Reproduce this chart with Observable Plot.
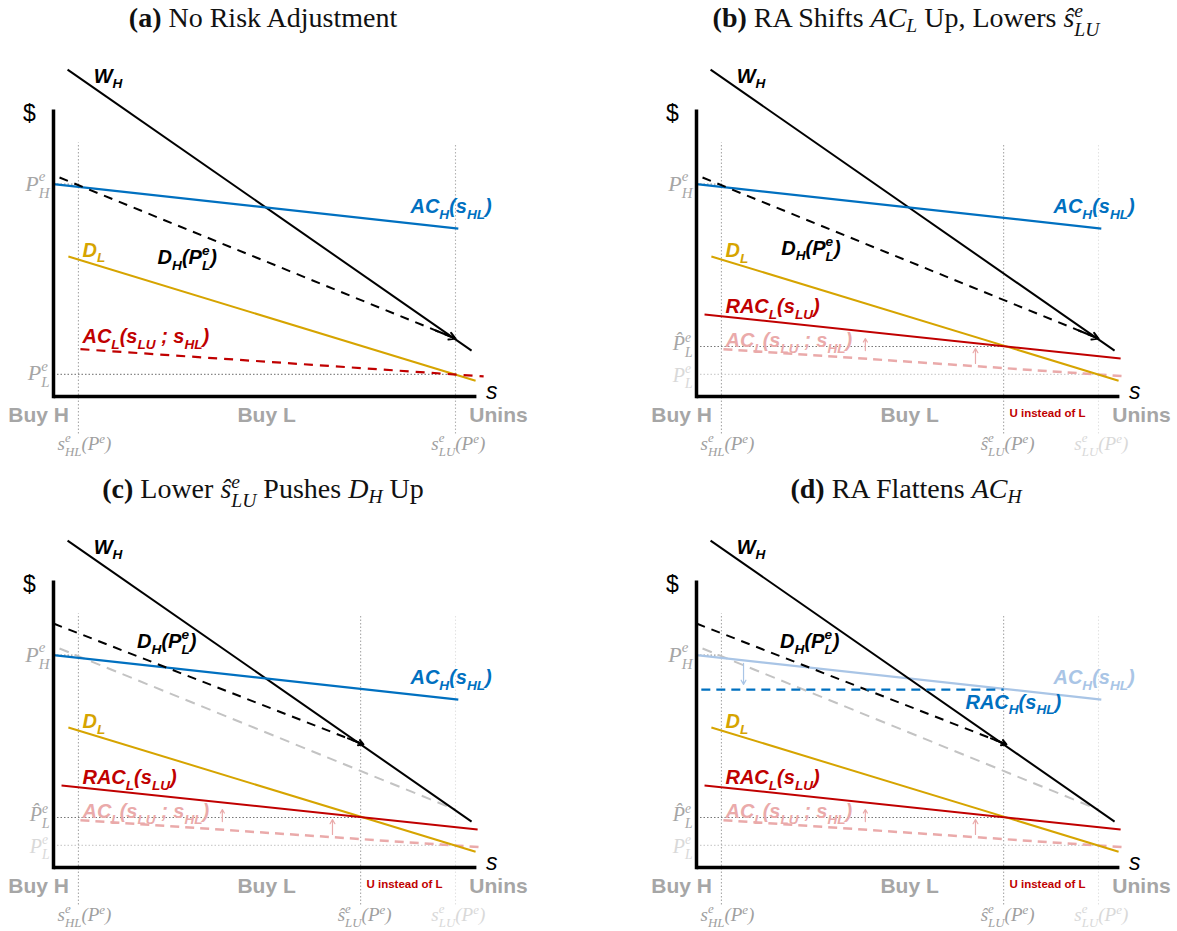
<!DOCTYPE html>
<html><head><meta charset="utf-8">
<script src="https://cdn.jsdelivr.net/npm/d3@7"></script>
<script src="https://cdn.jsdelivr.net/npm/@observablehq/plot@0.6"></script>
<style>
html,body{margin:0;padding:0;background:#fff;overflow:hidden;width:1177px;height:931px}
.panel{position:absolute;height:465px}
.title{position:absolute;left:0;top:0;width:526px;height:36px;line-height:36px;text-align:center;font-family:"Liberation Serif",serif;font-size:28px;color:#111;white-space:nowrap}
.title sub{font-size:0.7em;vertical-align:-0.25em;line-height:0}
.panel svg{position:absolute;left:0;top:36px}
.st{display:inline-block;vertical-align:-0.45em;line-height:0.95;font-size:0.7em;text-align:left}
.st span{display:block}
</style></head><body>
<div id="pa" class="panel" style="left:0;top:0;width:643px"><div class="title"><b>(a)</b> No Risk Adjustment</div></div>
<div id="pb" class="panel" style="left:643px;top:0;width:534px"><div class="title"><b>(b)</b> RA Shifts <i>AC</i><sub><i>L</i></sub> Up, Lowers <i>ŝ</i><span class="st"><span><i>e</i></span><span><i>LU</i></span></span></div></div>
<div id="pc" class="panel" style="left:0;top:471px;width:643px"><div class="title"><b>(c)</b> Lower <i>ŝ</i><span class="st"><span><i>e</i></span><span><i>LU</i></span></span> Pushes <i>D</i><sub><i>H</i></sub> Up</div></div>
<div id="pd" class="panel" style="left:643px;top:471px;width:534px"><div class="title"><b>(d)</b> RA Flattens <i>AC</i><sub><i>H</i></sub></div></div>
<script>
// ---------------- data (x: s, y: $) ----------------
const W_H    = [[3.5,113.9],[104,16]];
const AC_H   = [[0,74],[100.7,58.5]];
const D_H    = [[1.5,76.3],[100,20.2]];
const D_H_up = [[0,85],[77.1,42.9]];
const D_L    = [[3.7,48.8],[105,5.5]];
const AC_L   = [[6.7,16.5],[107,7.0]];
const RAC_L  = [[2,28.6],[105.5,13.2]];
const RAC_H  = [[1.2,62],[76.4,62]];
const P_H = 74, P_L = 7.7, P_L_hat = 17.4;
const s_HL = 6.2, s_LU = 100, s_LU_hat = 76.4;
const raArrowsL = [[42,16,20.2],[69.4,11.5,16.7]];   // x, from y, to y
const raArrowH  = [[11.7,71.1,63.8]];
const regionLabels = ["Buy H","Buy L","Unins"];
const regionX = [-3.7,53,110.7];

// ---------------- styles ----------------
const C = {blue:"#0070c0", gold:"#d6a400", red:"#c00000", redF:"#eaaaaa", blueF:"#a9c5e6",
           grayD:"#c3c3c3", grayT:"#a6a6a6", grayL:"#d9d9d9", black:"#000"};
const SANS = "Liberation Sans, Arial, sans-serif", SERIF = "Liberation Serif, serif";
const S = {
  bi:{fontFamily:SANS,fontWeight:"bold",fontStyle:"italic",fontSize:20,textAnchor:"start"},
  cat:{fontFamily:SANS,fontWeight:"bold",fontSize:21,textAnchor:"middle"},
  tiny:{fontFamily:SANS,fontWeight:"bold",fontSize:11.5,textAnchor:"middle"},
  pl:{fontFamily:SERIF,fontStyle:"italic",fontSize:22,textAnchor:"end"},
  pl2:{fontFamily:SERIF,fontStyle:"italic",fontSize:20,textAnchor:"end"},
  sl:{fontFamily:SERIF,fontStyle:"italic",fontSize:19,textAnchor:"middle"},
  dollar:{fontFamily:SANS,fontSize:23,textAnchor:"middle"},
  sx:{fontFamily:SANS,fontStyle:"italic",fontSize:23,textAnchor:"start"}
};
const seg = p => ({x1:p[0][0],y1:p[0][1],x2:p[1][0],y2:p[1][1]});
const along = (p,t) => [p[0][0]+t*(p[1][0]-p[0][0]), p[0][1]+t*(p[1][1]-p[0][1])];
const VTOP = 88.5, VBOT = -12.9, LBLY = -16.6, REGY = -6.6;

function common(texts){
  texts.push({x:-6,y:98.6,t:"$",c:C.black,s:"dollar"});
  texts.push({x:107.6,y:1.6,t:"s",c:C.black,s:"sx"});
  regionLabels.forEach((r,i)=>texts.push({x:regionX[i],y:REGY,t:r,c:C.grayT,s:"cat"}));
  texts.push({x:-1.0,y:P_H,t:"P^{e}_{H}",c:C.grayT,s:"pl"});
  texts.push({x:10,y:111.5,t:"W_{H}",c:C.black,s:"bi"});
  texts.push({x:s_HL+1.5,y:LBLY,t:"s^{e}_{HL}(P^{e})",c:"#a0a0a0",s:"sl"});
  return texts;
}

const cfgA = {
  dots:[{x1:s_HL,y1:VBOT,x2:s_HL,y2:VTOP,c:"#a8a8a8"},{x1:s_LU,y1:VBOT,x2:s_LU,y2:VTOP-0.7,c:"#b3b3b3"},
        {x1:0,y1:P_H,x2:s_HL,y2:P_H,c:"#999"},{x1:0,y1:P_L,x2:s_LU,y2:P_L,c:"#888"}],
  curves:[{p:W_H,c:C.black},{p:AC_H,c:C.blue,w:2.2},{p:D_H,c:C.black,dash:"9,7"},{p:D_L,c:C.gold},{p:AC_L,c:C.red,w:2.2,dash:"9,7"}],
  heads:[D_H], small:[],
  texts: common([
    {x:88.8,y:66.2,t:"AC_{H}(s_{HL})",c:C.blue,s:"bi"},
    {x:25.9,y:48.4,t:"D_{H}(P^{e}_{L})",c:C.black,s:"bi"},
    {x:7.2,y:50.9,t:"D_{L}",c:C.gold,s:"bi"},
    {x:7.2,y:20.9,t:"AC_{L}(s_{LU} ; s_{HL})",c:C.red,s:"bi"},
    {x:-1.0,y:P_L+0.4,t:"P^{e}_{L}",c:C.grayT,s:"pl"},
    {x:s_LU+0.7,y:LBLY,t:"s^{e}_{LU}(P^{e})",c:"#a0a0a0",s:"sl"}
  ])
};

function raBase(dhLabel, extra){
  const cfg = {
    dots:[{x1:s_HL,y1:VBOT,x2:s_HL,y2:VTOP,c:"#a8a8a8"},{x1:s_LU,y1:VBOT,x2:s_LU,y2:VTOP-0.7,c:"#e3e3e3"},
          {x1:s_LU_hat,y1:VBOT,x2:s_LU_hat,y2:VTOP-0.7,c:"#a8a8a8"},
          {x1:0,y1:P_H,x2:s_HL,y2:P_H,c:"#999"},{x1:0,y1:P_L,x2:s_LU,y2:P_L,c:"#cfcfcf"},
          {x1:0,y1:P_L_hat,x2:s_LU_hat,y2:P_L_hat,c:"#777"}],
    curves:[],
    heads:[], small:raArrowsL.map(a=>({x1:a[0],y1:a[1],x2:a[0],y2:a[2],c:C.redF})),
    texts: common([
      {x:88.8,y:66.2,t:"AC_{H}(s_{HL})",c:extra.acHFaded?C.blueF:C.blue,s:"bi"},
      {x:dhLabel[0],y:dhLabel[1],t:"D_{H}(P^{e}_{L})",c:C.black,s:"bi"},
      {x:7.2,y:50.7,t:"D_{L}",c:C.gold,s:"bi"},
      {x:7.2,y:31.2,t:"RAC_{L}(s_{LU})",c:C.red,s:"bi"},
      {x:7.2,y:19.4,t:"AC_{L}(s_{LU} ; s_{HL})",c:C.redF,s:"bi"},
      {x:-1.0,y:P_L_hat+0.9,t:"P\u0302^{e}_{L}",c:C.grayT,s:"pl2"},
      {x:-1.0,y:P_L-0.4,t:"P^{e}_{L}",c:C.grayL,s:"pl2"},
      {x:(s_LU_hat+s_LU)/2-0.9,y:-5.9,t:"U instead of L",c:C.red,s:"tiny"},
      {x:s_LU_hat+1,y:LBLY,t:"ŝ^{e}_{LU}(P^{e})",c:"#a0a0a0",s:"sl"},
      {x:s_LU+0.7,y:LBLY,t:"s^{e}_{LU}(P^{e})",c:C.grayL,s:"sl"}
    ])
  };
  return cfg;
}

const cfgB = raBase([21.1,51.6],{});
cfgB.curves = [{p:AC_L,c:C.redF,w:2.5,dash:"9,6"},{p:W_H,c:C.black},{p:AC_H,c:C.blue,w:2.2},{p:D_H,c:C.black,dash:"9,7"},{p:D_L,c:C.gold},{p:RAC_L,c:C.red}];
cfgB.heads = [D_H];

const cfgC = raBase([20.8,78.7],{});
cfgC.curves = [{p:AC_L,c:C.redF,w:2.5,dash:"9,6"},{p:D_H,c:C.grayD,dash:"10,7"},{p:W_H,c:C.black},{p:AC_H,c:C.blue,w:2.2},{p:D_H_up,c:C.black,dash:"9,7"},{p:D_L,c:C.gold},{p:RAC_L,c:C.red}];
cfgC.heads = [D_H_up];

const cfgD = raBase([20.8,78.7],{acHFaded:true});
cfgD.curves = [{p:AC_L,c:C.redF,w:2.5,dash:"9,6"},{p:D_H,c:C.grayD,dash:"10,7"},{p:AC_H,c:C.blueF,w:2.2},{p:W_H,c:C.black},{p:D_H_up,c:C.black,dash:"9,7"},{p:RAC_H,c:C.blue,w:2.2,dash:"9,6"},{p:D_L,c:C.gold},{p:RAC_L,c:C.red}];
cfgD.heads = [D_H_up];
cfgD.small = cfgD.small.concat(raArrowH.map(a=>({x1:a[0],y1:a[1],x2:a[0],y2:a[2],c:C.blueF})));
cfgD.texts.push({x:66.9,y:57.5,t:"RAC_{H}(s_{HL})",c:C.blue,s:"bi"});

// ---------------- rendering ----------------
function build(cfg, width){
  const lk = {x1:d=>d.x1,y1:d=>d.y1,x2:d=>d.x2,y2:d=>d.y2};
  const marks = [];
  marks.push(Plot.link(cfg.dots,{...lk,stroke:d=>d.c,strokeWidth:1.1,strokeDasharray:"1.5,2"}));
  for (const c of cfg.curves) marks.push(Plot.link([seg(c.p)],{...lk,stroke:c.c,strokeWidth:c.w||2,strokeDasharray:c.dash}));
  const heads = cfg.heads.map(p=>{const a=along(p,0.95);return {x1:a[0],y1:a[1],x2:p[1][0],y2:p[1][1]};});
  marks.push(Plot.arrow(heads,{...lk,stroke:"black",strokeWidth:2,headLength:10}));
  marks.push(Plot.arrow(cfg.small,{...lk,stroke:d=>d.c,strokeWidth:1.2,headLength:6}));
  // axes
  marks.push(Plot.link([{x1:0,y1:-0.6,x2:0,y2:100},{x1:0,y1:0,x2:105.2,y2:0}],{...lk,stroke:"black",strokeWidth:3.5}));
  const groups = d3.group(cfg.texts,d=>d.s);
  for (const [k,arr] of groups) marks.push(Plot.text(arr,{x:"x",y:"y",text:"t",fill:d=>d.c,...S[k]}));
  return Plot.plot({width,height:424,
    x:{domain:[0,100],range:[53,455],axis:null},
    y:{domain:[0,100],range:[360,73],axis:null},
    color:{type:"identity"},
    marks});
}

function mathify(root){
  const re = /\^\{[^}]*\}_\{[^}]*\}|\^\{[^}]*\}|_\{[^}]*\}|[^_^]+/g;
  const NS = "http://www.w3.org/2000/svg";
  root.querySelectorAll("text").forEach(t=>{
    const s = t.textContent;
    if (!/[_^]\{/.test(s)) return;
    const fs = parseFloat(getComputedStyle(t).fontSize);
    const parts = s.match(re);
    t.textContent = "";
    let cur = 0, pend = 0;
    const add = (txt,target,small,dx)=>{
      const ts = document.createElementNS(NS,"tspan");
      ts.textContent = txt;
      if (small) ts.setAttribute("font-size",(fs*0.68).toFixed(2));
      const dy = target-cur;
      if (dy) ts.setAttribute("dy",dy.toFixed(2));
      if (dx) ts.setAttribute("dx",dx.toFixed(2));
      cur = target; t.appendChild(ts); return ts;
    };
    for (const p of parts){
      let m;
      if ((m=p.match(/^\^\{([^}]*)\}_\{([^}]*)\}$/))){
        const a = add(m[1],-0.44*fs,true,pend); pend=0;
        const w1 = a.getComputedTextLength();
        const b = add(m[2],0.32*fs,true,-w1);
        const w2 = b.getComputedTextLength();
        pend = Math.max(0,w1-w2);
      } else if ((m=p.match(/^\^\{([^}]*)\}$/))){ add(m[1],-0.4*fs,true,pend); pend=0; }
      else if ((m=p.match(/^_\{([^}]*)\}$/))){ add(m[1],0.28*fs,true,pend); pend=0; }
      else { add(p,0,false,pend); pend=0; }
    }
  });
}

[["pa",cfgA,643],["pb",cfgB,534],["pc",cfgC,643],["pd",cfgD,534]].forEach(([id,cfg,w])=>{
  const svg = build(cfg,w);
  document.getElementById(id).appendChild(svg);
  mathify(svg);
});
</script>
</body></html>
